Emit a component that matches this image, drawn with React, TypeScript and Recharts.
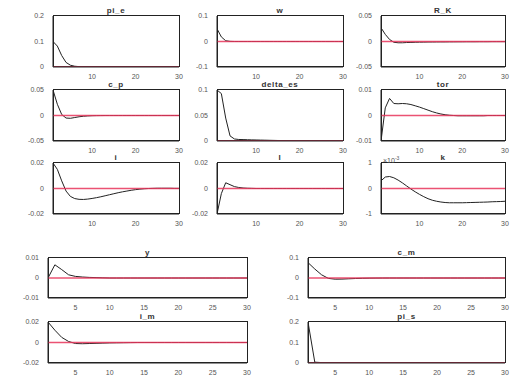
import { LineChart, Line, XAxis, YAxis } from "recharts";

// impulse horizon
const periods = [1, 2, 3, 4, 5, 6, 7, 8, 9, 10, 11, 12, 13, 14, 15, 16, 17, 18, 19, 20, 21, 22, 23, 24, 25, 26, 27, 28, 29, 30];

const piE = [0.1, 0.082, 0.045, 0.018, 0.007, 0.003, 0.0015, 0.001, 0.0006, 0.0004, 0.0003, 0.0002, 0.0001, 0.0001, 0, 0, 0, 0, 0, 0, 0, 0, 0, 0, 0, 0, 0, 0, 0, 0];
const wage = [0.05, 0.018, 0.003, 0.0005, 0, 0, 0, 0, 0, 0, 0, 0, 0, 0, 0, 0, 0, 0, 0, 0, 0, 0, 0, 0, 0, 0, 0, 0, 0, 0];
const rK = [0.027, 0.014, 0.004, -0.0015, -0.0025, -0.0025, -0.002, -0.0018, -0.0015, -0.0013, -0.0012, -0.001, -0.001, -0.0009, -0.0008, -0.0008, -0.0007, -0.0007, -0.0006, -0.0006, -0.0005, -0.0005, -0.0005, -0.0004, -0.0004, -0.0004, -0.0003, -0.0003, -0.0003, -0.0003];
const cP = [0.05, 0.022, 0.002, -0.005, -0.0055, -0.004, -0.0025, -0.0015, -0.0008, -0.0004, -0.0002, -0.0001, 0, 0, 0, 0, 0, 0, 0, 0, 0, 0, 0, 0, 0, 0, 0, 0, 0, 0];
const deltaEs = [0.1, 0.093, 0.045, 0.01, 0.004, 0.003, 0.0028, 0.0025, 0.0022, 0.002, 0.0018, 0.0016, 0.0014, 0.0012, 0.001, 0.0009, 0.0008, 0.0007, 0.0006, 0.0005, 0.0004, 0.0004, 0.0003, 0.0003, 0.0002, 0.0002, 0.0002, 0.0001, 0.0001, 0.0001];
const tor = [-0.01, 0.003, 0.0067, 0.0047, 0.0046, 0.0047, 0.0046, 0.0043, 0.0038, 0.0033, 0.0027, 0.0021, 0.0015, 0.001, 0.0006, 0.0003, 0.0001, 0, -0.0001, -0.0001, -0.0001, -0.0001, -0.0001, -0.0001, -0.0001, 0, 0, 0, 0, 0];
const invest = [0.02, 0.015, 0.006, -0.002, -0.0062, -0.0079, -0.0085, -0.0086, -0.0083, -0.0078, -0.0072, -0.0065, -0.0057, -0.0049, -0.0041, -0.0033, -0.0026, -0.002, -0.0014, -0.0009, -0.0005, -0.0002, 0, 0.0001, 0.0002, 0.0002, 0.0002, 0.0002, 0.0001, 0.0001];
const labor = [-0.02, -0.004, 0.0045, 0.003, 0.0015, 0.0008, 0.0004, 0.0002, 0.0001, 0, 0, 0, 0, 0, 0, 0, 0, 0, 0, 0, 0, 0, 0, 0, 0, 0, 0, 0, 0, 0];
// k is shown in units of 1e-3
const capital = [0.3, 0.45, 0.47, 0.42, 0.33, 0.22, 0.1, -0.02, -0.13, -0.23, -0.32, -0.4, -0.46, -0.5, -0.53, -0.55, -0.56, -0.56, -0.56, -0.56, -0.555, -0.55, -0.545, -0.54, -0.535, -0.53, -0.52, -0.515, -0.51, -0.5];
const output = [0, 0.0066, 0.0042, 0.0016, 0.0008, 0.0005, 0.0003, 0.0002, 0.0001, 0, 0, 0, 0, 0, 0, 0, 0, 0, 0, 0, 0, 0, 0, 0, 0, 0, 0, 0, 0, 0];
const cM = [0.077, 0.045, 0.016, -0.002, -0.006, -0.0055, -0.004, -0.0025, -0.0015, -0.0008, -0.0004, -0.0002, 0, 0, 0, 0, 0, 0, 0, 0, 0, 0, 0, 0, 0, 0, 0, 0, 0, 0];
const iM = [0.02, 0.012, 0.005, 0.001, -0.001, -0.0012, -0.001, -0.0008, -0.0006, -0.0004, -0.0003, -0.0002, -0.0001, 0, 0, 0, 0, 0, 0, 0, 0, 0, 0, 0, 0, 0, 0, 0, 0, 0];
const piS = [0.2, 0.004, 0.002, 0.0015, 0.001, 0.0008, 0.0006, 0.0004, 0.0003, 0.0002, 0.0001, 0, 0, 0, 0, 0, 0, 0, 0, 0, 0, 0, 0, 0, 0, 0, 0, 0, 0, 0];

const topXTicks = [10, 20, 30];
const bottomXTicks = [5, 10, 15, 20, 25, 30];

const ticks02 = [0, 0.1, 0.2];
const ticks01 = [-0.1, 0, 0.1];
const ticks005 = [-0.05, 0, 0.05];
const ticks01pos = [0, 0.05, 0.1];
const ticks0001 = [-0.01, 0, 0.01];
const ticks002 = [-0.02, 0, 0.02];
const ticks1 = [-1, 0, 1];

const FONT = "'Liberation Sans', Arial, sans-serif";

interface PanelProps {
  title: string,
  values: number[],
  yTicks: number[],
  xTicks: number[],
  left: number,
  top: number,
  boxW: number,
  boxH: number,
  scaleNote?: string
}

const L = 34;
const R = 8;
const T = 6;
const B = 14;

const Panel: React.FC<PanelProps> = ({ title, values, yTicks, xTicks, left, top, boxW, boxH, scaleNote }) => {
  // zero row drawn as the red steady-state line
  const data = periods.map((t, i) => ({ t, v: values[i], ss: 0 }));
  const yMin = yTicks[0];
  const yMax = yTicks[yTicks.length - 1];
  const tickStyle = { fontSize: 7, fill: "#555", fontFamily: FONT };
  return (
    <>
      {/* frame around the plot area, under the svg */}
      <div style={{ position: "absolute", left, top: top - 1, width: boxW + 1, height: boxH + 1,
        border: "1px solid #222", boxSizing: "border-box" }} />
      <div style={{ position: "absolute", left: left - L, top: top - T }}>
        <LineChart width={L + boxW + R} height={T + boxH + B} data={data} margin={{ top: T, right: R, left: 0, bottom: 0 }}>
          <XAxis dataKey="t" type="number" domain={[1, 30]} ticks={xTicks} allowDataOverflow
            height={B} tickLine={false} tickMargin={1} axisLine={{ stroke: "#222" }} tick={tickStyle} />
          <YAxis type="number" domain={[yMin, yMax]} ticks={yTicks} interval={0} allowDataOverflow
            width={L} tickLine={false} tickMargin={3} axisLine={{ stroke: "#222" }}
            tick={tickStyle} tickFormatter={(v: number) => String(v)} />
          <Line dataKey="v" stroke="#222" strokeWidth={1} dot={false} isAnimationActive={false} />
          <Line dataKey="ss" stroke="#e8345a" strokeWidth={1.4} strokeOpacity={0.85} dot={false} isAnimationActive={false} />
        </LineChart>
      </div>
      <div style={{ position: "absolute", left, width: boxW, top: top - 10, textAlign: "center",
        fontFamily: FONT, fontSize: 8, fontWeight: "bold", color: "#333", lineHeight: "9px", letterSpacing: 0.6 }}>
        {title}
      </div>
      {scaleNote && (
        <div style={{ position: "absolute", left: left + 2, top: top - 9, fontFamily: FONT, fontSize: 7, color: "#555", lineHeight: "8px" }}>
          {scaleNote}<sup style={{ fontSize: 5 }}>-3</sup>
        </div>
      )}
    </>
  );
};

const App = () => {
  const cols = [53, 217, 381];
  const widths = [126, 126, 124];
  const rows = [16, 90, 163];
  const h = 51;
  return (
    <div style={{ position: "absolute", left: 0, top: 0, width: 511, height: 376, background: "#fff", overflow: "hidden" }}>
      <Panel title="pi_e" values={piE} yTicks={ticks02} xTicks={topXTicks} left={cols[0]} top={rows[0]} boxW={widths[0]} boxH={h} />
      <Panel title="w" values={wage} yTicks={ticks01} xTicks={topXTicks} left={cols[1]} top={rows[0]} boxW={widths[1]} boxH={h} />
      <Panel title="R_K" values={rK} yTicks={ticks005} xTicks={topXTicks} left={cols[2]} top={rows[0]} boxW={widths[2]} boxH={h} />
      <Panel title="c_p" values={cP} yTicks={ticks005} xTicks={topXTicks} left={cols[0]} top={rows[1]} boxW={widths[0]} boxH={h} />
      <Panel title="delta_es" values={deltaEs} yTicks={ticks01pos} xTicks={topXTicks} left={cols[1]} top={rows[1]} boxW={widths[1]} boxH={h} />
      <Panel title="tor" values={tor} yTicks={ticks0001} xTicks={topXTicks} left={cols[2]} top={rows[1]} boxW={widths[2]} boxH={h} />
      <Panel title="i" values={invest} yTicks={ticks002} xTicks={topXTicks} left={cols[0]} top={rows[2]} boxW={widths[0]} boxH={h} />
      <Panel title="l" values={labor} yTicks={ticks002} xTicks={topXTicks} left={cols[1]} top={rows[2]} boxW={widths[1]} boxH={h} />
      <Panel title="k" values={capital} yTicks={ticks1} xTicks={topXTicks} left={cols[2]} top={rows[2]} boxW={widths[2]} boxH={h} scaleNote="×10" />
      <Panel title="y" values={output} yTicks={ticks0001} xTicks={bottomXTicks} left={48} top={258} boxW={199} boxH={40} />
      <Panel title="c_m" values={cM} yTicks={ticks01} xTicks={bottomXTicks} left={308} top={258} boxW={197} boxH={40} />
      <Panel title="i_m" values={iM} yTicks={ticks002} xTicks={bottomXTicks} left={48} top={322} boxW={199} boxH={41} />
      <Panel title="pi_s" values={piS} yTicks={ticks02} xTicks={bottomXTicks} left={308} top={322} boxW={197} boxH={41} />
    </div>
  );
};

export default App;
